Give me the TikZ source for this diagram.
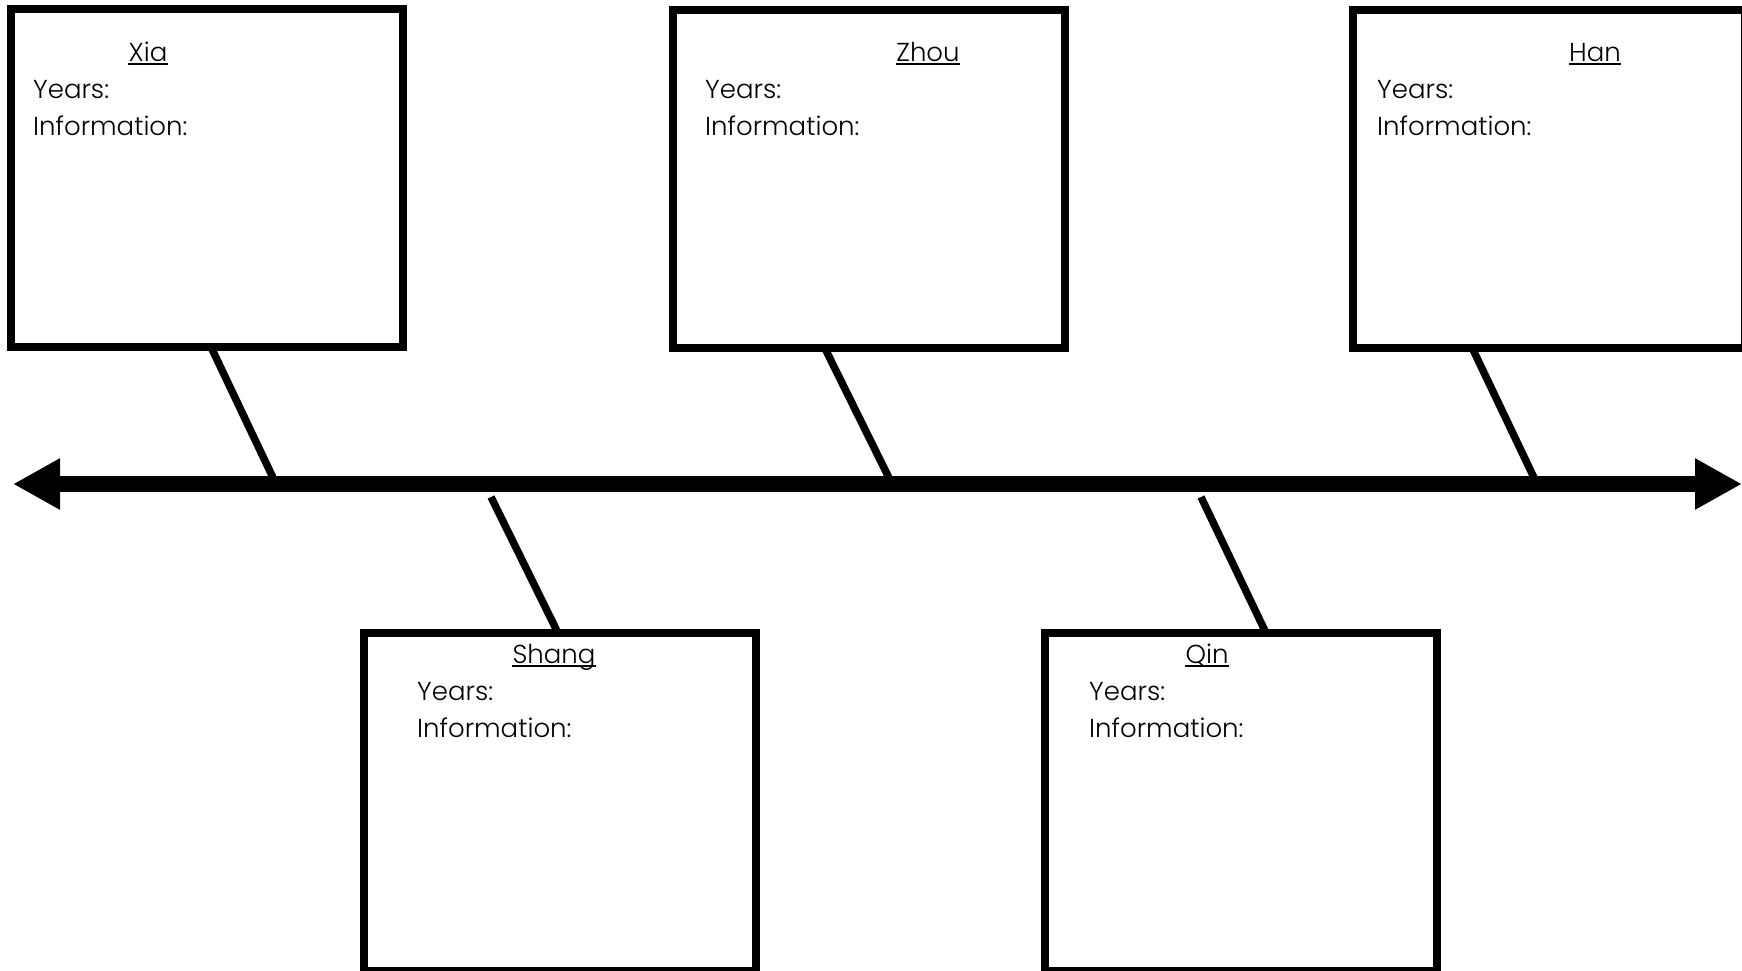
\documentclass[tikz,border=0pt]{standalone}
\usepackage{fontspec}
\setmainfont{Poppins}[UprightFont=* Light]
\usetikzlibrary{arrows.meta,calc}
\begin{document}
\begin{tikzpicture}[x=1pt,y=-1pt,
  panel/.style={draw=black,line width=8pt,minimum width=392pt,minimum height=338pt,inner sep=0pt},
  stem/.style={line width=7.5pt},
  dyn/.style={inner sep=0pt,anchor=base,font=\fontsize{26}{30}\selectfont},
  fieldtxt/.style={inner sep=0pt,anchor=base west,font=\fontsize{26}{30}\selectfont},
  uline/.style={line width=2pt},
  axis/.style={line width=16pt,{Triangle[length=47pt,width=48pt]}-{Triangle[length=47pt,width=48pt]}}]
\useasboundingbox (0,0) rectangle (1742,970);
\fill[white] (0,0) rectangle (1742,970);
% panels
\node[panel] (xia) at (207,178) {};
\node[panel] (zhou) at (868.5,178.5) {};
\node[panel] (han) at (1549,178.5) {};
\node[panel] (shang) at (560,802) {};
\node[panel] (qin) at (1241,802) {};
% texts
\node[dyn] (xiaT) at (148,61) {Xia};
\node[fieldtxt] (xiaY) at (33,98) {Years:};
\node[fieldtxt] (xiaI) at (33,135) {Information:};
\node[dyn] (zhouT) at (928,61) {Zhou};
\node[fieldtxt] (zhouY) at (705,98) {Years:};
\node[fieldtxt] (zhouI) at (705,135) {Information:};
\node[dyn] (hanT) at (1595,61) {Han};
\node[fieldtxt] (hanY) at (1377,98) {Years:};
\node[fieldtxt] (hanI) at (1377,135) {Information:};
\node[dyn] (shangT) at (554,663) {Shang};
\node[fieldtxt] (shangY) at (417,700) {Years:};
\node[fieldtxt] (shangI) at (417,737) {Information:};
\node[dyn] (qinT) at (1207,663) {Qin};
\node[fieldtxt] (qinY) at (1089,700) {Years:};
\node[fieldtxt] (qinI) at (1089,737) {Information:};
\foreach \t in {xiaT,zhouT,hanT,shangT,qinT}{
  \draw[uline] ([yshift=-3pt]\t.base west) -- ([yshift=-3pt]\t.base east);
}
% timeline anchor points
\coordinate (tl) at (13,484);
\coordinate (tr) at (1742,484);
\coordinate (xiaP) at (276,484);
\coordinate (zhouP) at (892,484);
\coordinate (hanP) at (1537,484);
\coordinate (shangP) at (491,497);
\coordinate (qinP) at (1201,497);
% stems
\draw[stem] ($(xia.south west)!0.515!(xia.south east)+(-2,-4)$) -- (xiaP);
\draw[stem] ($(zhou.south west)!0.395!(zhou.south east)+(-2,-4)$) -- (zhouP);
\draw[stem] ($(han.south west)!0.3125!(han.south east)+(-2,-4)$) -- (hanP);
\draw[stem] (shangP) -- ($(shang.north west)!0.49!(shang.north east)+(2,4)$);
\draw[stem] (qinP) -- ($(qin.north west)!0.5575!(qin.north east)+(2,4)$);
% timeline
\draw[axis] (tl) -- (tr);
\end{tikzpicture}
\end{document}
